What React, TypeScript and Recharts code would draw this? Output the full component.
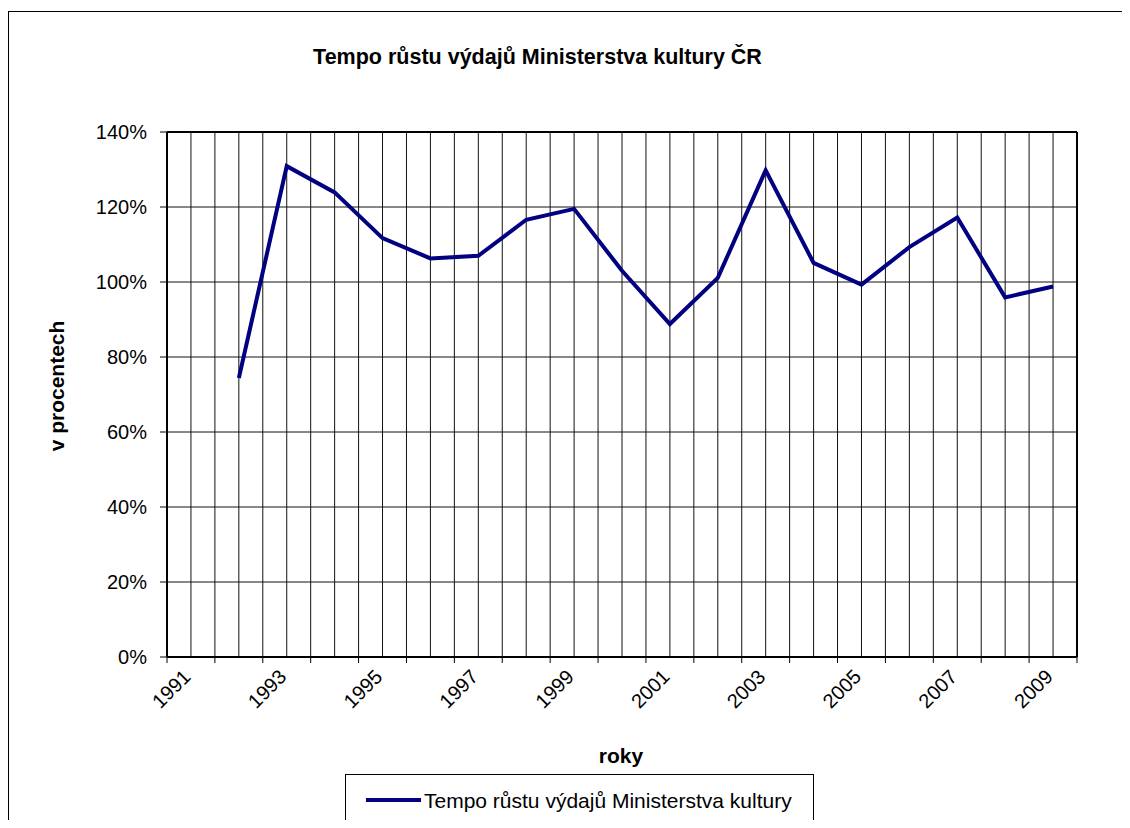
import { CartesianGrid, Legend, Line, LineChart, ReferenceLine, XAxis, YAxis } from "recharts";

const years = [1991, 1992, 1993, 1994, 1995, 1996, 1997, 1998, 1999, 2000, 2001, 2002, 2003, 2004, 2005, 2006, 2007, 2008, 2009];
const growth = [null, 74.4, 130.9, 123.9, 111.7, 106.3, 107, 116.6, 119.5, 103, 88.8, 101.1, 129.8, 105.1, 99.3, 109.3, 117.2, 95.9, 98.8];
const labelYears = [1991, 1993, 1995, 1997, 1999, 2001, 2003, 2005, 2007, 2009];
const yTicks = [0, 20, 40, 60, 80, 100, 120, 140];

const seriesName = "Tempo růstu výdajů Ministerstva kultury";
const font = '"Liberation Sans", Arial, sans-serif';

const rows = years.map((year, i) => ({ year, value: growth[i] }));
// gridlines sit on category edges and centres, tick marks only on edges
const xTicks = years.flatMap((y) => [y - 0.5, y]).concat(years[years.length - 1] + 0.5);

const XTick = (props: any) => {
  const { x, y, payload } = props;
  const v = payload.value;
  return (
    <g>
      {v % 1 !== 0 && <line x1={x} y1={y - 20} x2={x} y2={y - 14} stroke="#000" />}
      {labelYears.includes(v) && (
        <text x={x + 1} y={y + 1} transform={`rotate(-45 ${x + 1} ${y + 1})`} textAnchor="end" fontSize={20} fontFamily={font} fill="#000">
          {v}
        </text>
      )}
    </g>
  );
};

const LegendBox = (props: any) => (
  <div
    style={{
      display: "flex",
      alignItems: "center",
      width: 469,
      height: 52,
      paddingLeft: 20,
      boxSizing: "border-box",
      border: "1px solid #000",
      background: "#fff",
    }}
  >
    {(props.payload || []).map((p: any) => (
      <div key={p.value} style={{ display: "flex", alignItems: "center" }}>
        <span style={{ display: "inline-block", width: 55, height: 4, background: p.color }} />
        <span style={{ marginLeft: 3, fontSize: 21, lineHeight: "21px", fontFamily: font, color: "#000", whiteSpace: "nowrap" }}>{p.value}</span>
      </div>
    ))}
  </div>
);

const App = () => {
  return (
    <div style={{ position: "relative", width: 1122, height: 812, fontFamily: font, color: "#000" }}>
      <div style={{ position: "absolute", left: 0, top: 0, width: 1122, height: 820, overflow: "hidden" }}>
        <div style={{ position: "absolute", left: 0, top: 3, width: 1118, height: 900, border: "1px solid #000" }} />
      </div>
      <div style={{ position: "absolute", left: 0, top: 39, width: 1059, textAlign: "center", fontWeight: "bold", fontSize: 21.5, lineHeight: "21px" }}>
        Tempo růstu výdajů Ministerstva kultury ČR
      </div>
      <LineChart width={1122} height={820} data={rows} margin={{ top: 124, right: 53, bottom: 131, left: 0 }}>
        <CartesianGrid stroke="#111" strokeWidth={1} />
        <XAxis
          dataKey="year"
          type="number"
          domain={[1990.5, 2009.5]}
          ticks={xTicks}
          interval={0}
          height={40}
          tickSize={6}
          tickMargin={14}
          tickLine={false}
          tick={<XTick />}
          axisLine={{ stroke: "#000", strokeWidth: 2 }}
        />
        <YAxis
          domain={[0, 140]}
          ticks={yTicks}
          width={159}
          tickSize={7}
          tickMargin={13}
          tickFormatter={(v) => `${v}%`}
          tick={{ fontSize: 20, fill: "#000", fontFamily: font }}
          tickLine={{ stroke: "#000" }}
          axisLine={{ stroke: "#000", strokeWidth: 2 }}
        />
        <ReferenceLine y={140} stroke="#000" strokeWidth={2} />
        <ReferenceLine x={2009.5} stroke="#000" strokeWidth={2} />
        <Line type="linear" dataKey="value" name={seriesName} stroke="#000080" strokeWidth={4} dot={false} isAnimationActive={false} />
        <Legend layout="horizontal" verticalAlign="middle" content={<LegendBox />} wrapperStyle={{ left: 337, top: 766, width: 469, height: 52 }} />
      </LineChart>
      <div style={{ position: "absolute", left: 513, top: 737, width: 200, textAlign: "center", fontWeight: "bold", fontSize: 21, lineHeight: "21px" }}>roky</div>
      <div
        style={{
          position: "absolute",
          left: 48,
          top: 378,
          transform: "translate(-50%, -50%) rotate(-90deg)",
          whiteSpace: "nowrap",
          fontWeight: "bold",
          fontSize: 21,
          lineHeight: "21px",
        }}
      >
        v procentech
      </div>
    </div>
  );
};

export default App;
